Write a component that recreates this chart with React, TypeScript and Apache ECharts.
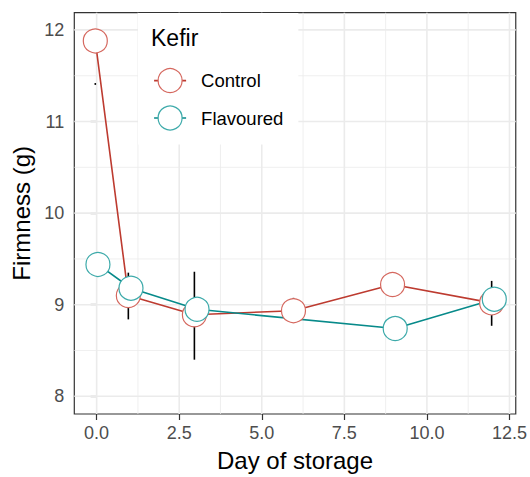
import React, { useEffect, useRef } from "react";
import * as echarts from "echarts";

// ---- data ----
const controlDays = [0, 1, 3, 6, 9, 12];
const controlFirmness = [11.88, 9.1, 8.89, 8.935, 9.22, 9.02];
const controlLow = [11.4, 8.84, 8.4, 8.81, 9.12, 8.77];
const controlHigh = [11.42, 9.35, 9.36, 9.075, 9.32, 9.26];

const flavouredDays = [0, 1, 3, 9, 12];
const flavouredFirmness = [9.44, 9.18, 8.95, 8.74, 9.06];

const xTicks = [0, 2.5, 5, 7.5, 10, 12.5];
const xMinorTicks = [1.25, 3.75, 6.25, 8.75, 11.25];
const yTicks = [8, 9, 10, 11, 12];
const yMinorTicks = [8.5, 9.5, 10.5, 11.5];

const X_MIN = -0.676;
const X_MAX = 12.69;
const Y_MIN = 7.807;
const Y_MAX = 12.188;
const DODGE = 0.04;

const RED_LINE = "#BD3B30";
const RED_PT = "#D5685F";
const TEAL_LINE = "#078A8A";
const TEAL_PT = "#3DAAAA";
const FONT = "'Liberation Sans', Arial, sans-serif";

export default function App() {
  const ref = useRef<HTMLDivElement>(null);

  useEffect(() => {
    document.body.style.margin = "0";
    const chart = echarts.init(ref.current!, null, { renderer: "svg" });

    const gridData = [
      ...xTicks.map((v) => [v, 0, 1.6]),
      ...xMinorTicks.map((v) => [v, 0, 0.8]),
      ...yTicks.map((v) => [v, 1, 1.6]),
      ...yMinorTicks.map((v) => [v, 1, 0.8]),
    ];

    const ctrlPts = controlDays.map((d, i) => [d - DODGE, controlFirmness[i]]);
    const flavPts = flavouredDays.map((d, i) => [d + DODGE, flavouredFirmness[i]]);
    const errData = controlDays.map((d, i) => [d - DODGE, controlLow[i], controlHigh[i]]);

    chart.setOption({
      animation: false,
      textStyle: { fontFamily: FONT },
      grid: {
        left: 74.3,
        right: 12.7,
        top: 12.7,
        bottom: 60.3,
        show: true,
        borderColor: "#333333",
        borderWidth: 1.2,
        backgroundColor: "#fff",
      },
      xAxis: {
        type: "value",
        min: X_MIN,
        max: X_MAX,
        name: "Day of storage",
        nameLocation: "middle",
        nameGap: 34,
        nameTextStyle: { fontSize: 24, color: "#000", fontFamily: FONT },
        axisLine: { show: false },
        splitLine: { show: false },
        axisTick: {
          show: true,
          length: 6,
          customValues: xTicks,
          lineStyle: { color: "#333333", width: 1.2 },
        },
        axisLabel: {
          customValues: xTicks,
          formatter: (v: number) => v.toFixed(1),
          fontSize: 18,
          color: "#4D4D4D",
          margin: 10,
          fontFamily: FONT,
        },
      },
      yAxis: {
        type: "value",
        min: Y_MIN,
        max: Y_MAX,
        name: "Firmness (g)",
        nameLocation: "middle",
        nameGap: 26,
        nameRotate: 90,
        nameTextStyle: { fontSize: 24, color: "#000", fontFamily: FONT },
        axisLine: { show: false },
        splitLine: { show: false },
        axisTick: {
          show: true,
          length: 6,
          customValues: yTicks,
          lineStyle: { color: "#333333", width: 1.2 },
        },
        axisLabel: {
          customValues: yTicks,
          formatter: (v: number) => String(v),
          fontSize: 18,
          color: "#4D4D4D",
          margin: 10,
          fontFamily: FONT,
        },
      },
      legend: {
        orient: "vertical",
        left: 138,
        top: 13,
        padding: [55, 15, 14, 15.3],
        backgroundColor: "#fff",
        itemWidth: 32,
        itemHeight: 30,
        itemGap: 12.2,
        selectedMode: false,
        textStyle: { fontSize: 18.5, color: "#000", fontFamily: FONT, padding: [0, 0, 0, 10] },
        data: [
          {
            name: "Control",
            itemStyle: { color: "#fff", borderColor: RED_PT, borderWidth: 1.2 },
            lineStyle: { color: RED_LINE, width: 1.6 },
          },
          {
            name: "Flavoured",
            itemStyle: { color: "#fff", borderColor: TEAL_PT, borderWidth: 1.2 },
            lineStyle: { color: TEAL_LINE, width: 1.6 },
          },
        ],
      },
      graphic: [
        {
          type: "text",
          left: 151,
          top: 26,
          z: 100,
          style: { text: "Kefir", fontSize: 23, fill: "#000", fontFamily: FONT },
        },
      ],
      series: [
        {
          type: "line",
          name: "Control",
          data: ctrlPts,
          symbol: "circle",
          symbolSize: 24,
          showSymbol: false,
          lineStyle: { color: RED_LINE, width: 1.6 },
          itemStyle: { color: "#fff", borderColor: RED_PT, borderWidth: 1.2 },
          z: 3,
          silent: true,
        },
        {
          type: "line",
          name: "Flavoured",
          data: flavPts,
          symbol: "circle",
          symbolSize: 24,
          showSymbol: false,
          lineStyle: { color: TEAL_LINE, width: 1.6 },
          itemStyle: { color: "#fff", borderColor: TEAL_PT, borderWidth: 1.2 },
          z: 3,
          silent: true,
        },
        {
          type: "custom",
          name: "grid",
          silent: true,
          z: 1,
          data: gridData,
          renderItem: (params: any, api: any) => {
            const v = api.value(0);
            const isY = api.value(1) === 1;
            const w = api.value(2);
            const p1 = isY ? api.coord([X_MIN, v]) : api.coord([v, Y_MIN]);
            const p2 = isY ? api.coord([X_MAX, v]) : api.coord([v, Y_MAX]);
            return {
              type: "line",
              shape: { x1: p1[0], y1: p1[1], x2: p2[0], y2: p2[1] },
              style: { stroke: "#EBEBEB", lineWidth: w },
            };
          },
        },
        {
          type: "custom",
          name: "errorbars",
          silent: true,
          z: 4,
          data: errData,
          renderItem: (params: any, api: any) => {
            const lo = api.coord([api.value(0), api.value(1)]);
            const hi = api.coord([api.value(0), api.value(2)]);
            return {
              type: "line",
              shape: { x1: lo[0], y1: lo[1], x2: hi[0], y2: hi[1] },
              style: { stroke: "#000", lineWidth: 1.6 },
            };
          },
        },
        {
          type: "scatter",
          name: "Control",
          data: ctrlPts,
          symbol: "circle",
          symbolSize: 24,
          itemStyle: { color: "#fff", borderColor: RED_PT, borderWidth: 1.2, opacity: 1 },
          z: 5,
          silent: true,
        },
        {
          type: "scatter",
          name: "Flavoured",
          data: flavPts,
          symbol: "circle",
          symbolSize: 24,
          itemStyle: { color: "#fff", borderColor: TEAL_PT, borderWidth: 1.2, opacity: 1 },
          z: 6,
          silent: true,
        },
      ],
    });

    return () => chart.dispose();
  }, []);

  return <div ref={ref} style={{ width: 530, height: 477 }} />;
}
